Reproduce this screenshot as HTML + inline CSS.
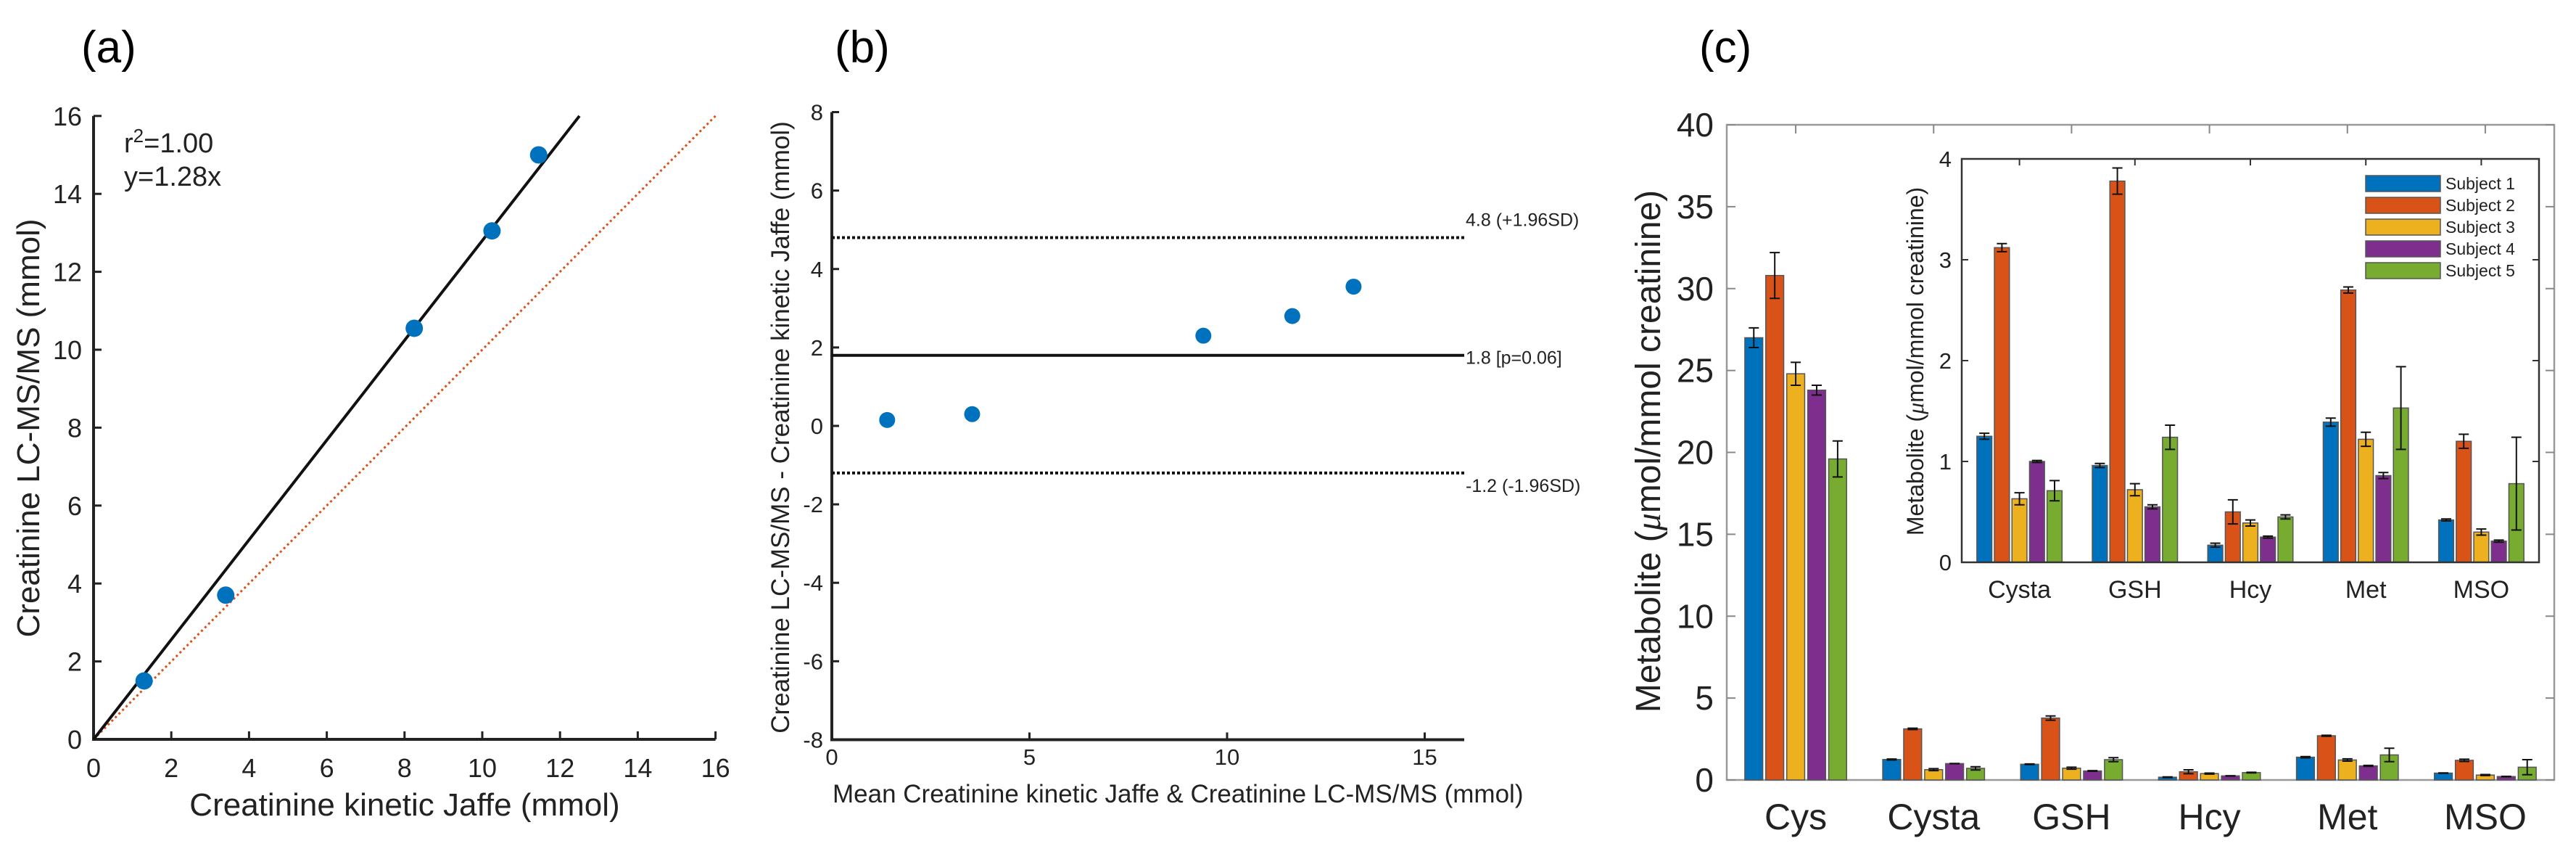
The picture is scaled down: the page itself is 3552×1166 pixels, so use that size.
<!DOCTYPE html>
<html><head><meta charset="utf-8"><style>
body{margin:0;background:#fff}
svg{display:block;font-family:"Liberation Sans",sans-serif}
</style></head><body>
<svg id="s" width="3552" height="1166" viewBox="0 0 3552 1166" xmlns="http://www.w3.org/2000/svg">
<rect width="3552" height="1166" fill="#fff"/>
<g id="pa"></g>
<g id="pb"></g>
<g id="pc"></g>
</svg>
<script>
// Panel a data
const aX=[1.3,3.4,8.25,10.25,11.45];
const aY=[1.5,3.7,10.55,13.05,15.0];
const aTicks=[0,2,4,6,8,10,12,14,16];
const aSlope=[1.28];
// Panel b data
const bX=[1.4,3.55,9.4,11.65,13.2];
const bY=[0.15,0.3,2.3,2.8,3.55];
const bYTicks=[-8,-6,-4,-2,0,2,4,6,8];
const bXTicks=[0,5,10,15];
const bLines=[4.8,1.8,-1.2];
const bLineLabels=["4.8 (+1.96SD)","1.8 [p=0.06]","-1.2 (-1.96SD)"];
// Panel c data
const cCats=["Cys","Cysta","GSH","Hcy","Met","MSO"];
const cSubjects=["Subject 1","Subject 2","Subject 3","Subject 4","Subject 5"];
const cS1=[27.0,1.25,0.96,0.17,1.39,0.42];
const cS2=[30.8,3.12,3.78,0.50,2.70,1.20];
const cS3=[24.8,0.63,0.72,0.39,1.22,0.30];
const cS4=[23.8,1.00,0.55,0.25,0.86,0.21];
const cS5=[19.6,0.71,1.24,0.45,1.53,0.78];
const cE1=[0.6,0.03,0.02,0.02,0.04,0.01];
const cE2=[1.4,0.04,0.13,0.12,0.03,0.07];
const cE3=[0.7,0.06,0.06,0.03,0.07,0.03];
const cE4=[0.3,0.01,0.02,0.01,0.03,0.01];
const cE5=[1.1,0.10,0.12,0.02,0.41,0.46];
const cYTicks=[0,5,10,15,20,25,30,35,40];
const iYTicks=[0,1,2,3,4];
const colors=["#0072BD","#D95319","#EDB120","#7E2F8E","#77AC30"];

const NS="http://www.w3.org/2000/svg";
function el(parent,tag,attrs,text){const e=document.createElementNS(NS,tag);for(const k in attrs)e.setAttribute(k,attrs[k]);if(text!==undefined)e.textContent=text;parent.appendChild(e);return e;}

// ---------- Panel a ----------
(function(){
const g=document.getElementById('pa');
const x=v=>129+v*53.6, y=v=>1019-v*53.7;
let t=el(g,'text',{x:112,y:86,'font-size':62});t.textContent='(a)';

let ax=el(g,'path',{d:`M${x(0)},${y(16)} L${x(0)},${y(0)} L${x(16)},${y(0)}`,fill:'none',stroke:'#222','stroke-width':4});

aTicks.forEach(v=>{
 el(g,'line',{x1:x(v),y1:y(0),x2:x(v),y2:y(0)-11,stroke:'#222','stroke-width':3});
 el(g,'line',{x1:x(0),y1:y(v),x2:x(0)+11,y2:y(v),stroke:'#222','stroke-width':3});
 let tx=el(g,'text',{x:x(v),y:1071,'font-size':36,'text-anchor':'middle',fill:'#222'},String(v));
 
 let ty=el(g,'text',{x:x(0)-16,y:y(v)+13,'font-size':36,'text-anchor':'end',fill:'#222'},String(v));
 
});
let xt=el(g,'text',{x:558,y:1124,'font-size':44,'text-anchor':'middle',fill:'#222'},'Creatinine kinetic Jaffe (mmol)');

let yt=el(g,'text',{x:0,y:0,'font-size':44,'text-anchor':'middle',fill:'#222',transform:'translate(54,590) rotate(-90)'},'Creatinine LC-MS/MS (mmol)');

let id=el(g,'line',{x1:x(0),y1:y(0),x2:x(16),y2:y(16),stroke:'#D95319','stroke-width':3,'stroke-dasharray':'3,4'});

const xe=16/aSlope[0];
let fl=el(g,'line',{x1:x(0),y1:y(0),x2:x(xe),y2:y(xe*aSlope[0]),stroke:'#111','stroke-width':4});

aX.forEach((v,i)=>{let c=el(g,'circle',{cx:x(v),cy:y(aY[i]),r:12,fill:'#0072BD'});
 });
let r=el(g,'text',{x:171,y:210,'font-size':38,fill:'#222'});
r.innerHTML='r<tspan dy="-14" font-size="26">2</tspan><tspan dy="14">=1.00</tspan>';

let eq=el(g,'text',{x:171,y:256,'font-size':38,fill:'#222'},'y=1.28x');

})();

// ---------- Panel b ----------
(function(){
const g=document.getElementById('pb');
const x=v=>1147+v*54.5, y=v=>587-v*54.06;
let t=el(g,'text',{x:1151,y:86,'font-size':62},'(b)');

let ax=el(g,'path',{d:`M${x(0)},${y(8)} L${x(0)},${y(-8)} L${x(16)},${y(-8)}`,fill:'none',stroke:'#222','stroke-width':4});

bYTicks.forEach(v=>{
 el(g,'line',{x1:x(0),y1:y(v),x2:x(0)+10,y2:y(v),stroke:'#222','stroke-width':3});
 let ty=el(g,'text',{x:x(0)-12,y:y(v)+11,'font-size':31,'text-anchor':'end',fill:'#222'},String(v));
 
});
bXTicks.forEach(v=>{
 el(g,'line',{x1:x(v),y1:y(-8),x2:x(v),y2:y(-8)-10,stroke:'#222','stroke-width':3});
 let tx=el(g,'text',{x:x(v),y:1054,'font-size':31,'text-anchor':'middle',fill:'#222'},String(v));
 
});
let xt=el(g,'text',{x:1148,y:1106,'font-size':35,fill:'#222'},'Mean Creatinine kinetic Jaffe & Creatinine LC-MS/MS (mmol)');

let yt=el(g,'text',{x:0,y:0,'font-size':35,'text-anchor':'middle',fill:'#222',transform:'translate(1088,589) rotate(-90)'},'Creatinine LC-MS/MS - Creatinine kinetic Jaffe (mmol)');

bLines.forEach((v,i)=>{
 const dash=i===1?'none':'4,3';
 let l=el(g,'line',{x1:x(0),y1:y(v),x2:x(16),y2:y(v),stroke:'#111','stroke-width':i===1?4:4,'stroke-dasharray':dash});
 
 const dy=i===0?-16:(i===1?12:26);
 let lt=el(g,'text',{x:x(16)+2,y:y(v)+dy,'font-size':25,fill:'#222'},bLineLabels[i]);
 
});
bX.forEach((v,i)=>{let c=el(g,'circle',{cx:x(v),cy:y(bY[i]),r:11,fill:'#0072BD'});
 });
})();

// ---------- Panel c ----------
(function(){
const g=document.getElementById('pc');
const S=[cS1,cS2,cS3,cS4,cS5], E=[cE1,cE2,cE3,cE4,cE5];
let t=el(g,'text',{x:2343,y:86,'font-size':62},'(c)');

// main axes
const L=2381,R=3522,T=172,B=1075;
const x=c=>L+(c+0.5)*(R-L)/6, y=v=>B-v*(B-T)/40;
let box=el(g,'rect',{x:L,y:T,width:R-L,height:B-T,fill:'none',stroke:'#999','stroke-width':2.5});

cYTicks.forEach(v=>{
 el(g,'line',{x1:L,y1:y(v),x2:L+12,y2:y(v),stroke:'#888','stroke-width':2});
 el(g,'line',{x1:R,y1:y(v),x2:R-12,y2:y(v),stroke:'#888','stroke-width':2});
 let ty=el(g,'text',{x:L-18,y:y(v)+16,'font-size':46,'text-anchor':'end',fill:'#222'},String(v));
 
});
const bw=(R-L)/6;
function bars(gg,cats,xf,yf,w,idxs,pref){
 idxs.forEach((ci,k)=>{
  for(let s=0;s<5;s++){
   const cx=xf(k)+(s-2)*w*0.152;
   const bwid=w*0.13;
   const v=S[s][ci], e=E[s][ci];
   let b=el(gg,'rect',{x:cx-bwid/2,y:yf(v),width:bwid,height:yf(0)-yf(v),fill:colors[s],stroke:'#555','stroke-width':1.5});
   
   
   let eb=el(gg,'path',{d:`M${cx},${yf(v-e)} L${cx},${yf(v+e)} M${cx-7},${yf(v-e)} L${cx+7},${yf(v-e)} M${cx-7},${yf(v+e)} L${cx+7},${yf(v+e)}`,stroke:'#111','stroke-width':2,fill:'none'});
   
  }
 });
}
bars(g,cCats,x,y,bw,[0,1,2,3,4,5],'');
cCats.forEach((c,i)=>{
 el(g,'line',{x1:x(i),y1:T,x2:x(i),y2:T+12,stroke:'#888','stroke-width':2});
 let tx=el(g,'text',{x:x(i),y:1143,'font-size':50,'text-anchor':'middle',fill:'#222'},c);
 
});
let yt=el(g,'text',{x:0,y:0,'font-size':48,'text-anchor':'middle',fill:'#222',transform:'translate(2289,622) rotate(-90)'});
yt.innerHTML='Metabolite (<tspan font-style="italic" font-family="Liberation Serif">μ</tspan>mol/mmol creatinine)';

// inset
const iL=2705,iR=3501,iT=219,iB=775;
const ix=k=>iL+(k+0.5)*(iR-iL)/5, iy=v=>iB-v*(iB-iT)/4;
let ibg=el(g,'rect',{x:iL,y:iT,width:iR-iL,height:iB-iT,fill:'#fff',stroke:'none'});

const ig=el(g,'g',{});

bars(ig,cCats,ix,iy,(iR-iL)/5,[1,2,3,4,5],'inset-');
let ibox=el(ig,'rect',{x:iL,y:iT,width:iR-iL,height:iB-iT,fill:'none',stroke:'#333','stroke-width':2.5});

iYTicks.forEach(v=>{
 el(ig,'line',{x1:iL,y1:iy(v),x2:iL+9,y2:iy(v),stroke:'#333','stroke-width':2});
 el(ig,'line',{x1:iR,y1:iy(v),x2:iR-9,y2:iy(v),stroke:'#333','stroke-width':2});
 let ty=el(ig,'text',{x:iL-14,y:iy(v)+11,'font-size':31,'text-anchor':'end',fill:'#222'},String(v));
 
});
[1,2,3,4,5].forEach((ci,k)=>{
 el(ig,'line',{x1:ix(k),y1:iT,x2:ix(k),y2:iT+9,stroke:'#333','stroke-width':2});
 let tx=el(ig,'text',{x:ix(k),y:824,'font-size':34,'text-anchor':'middle',fill:'#222'},cCats[ci]);
 
});
let iyt=el(ig,'text',{x:0,y:0,'font-size':32,'text-anchor':'middle',fill:'#222',transform:'translate(2652,498) rotate(-90)'});
iyt.innerHTML='Metabolite (<tspan font-style="italic" font-family="Liberation Serif">μ</tspan>mol/mmol creatinine)';

// legend
const lg=el(ig,'g',{});

el(lg,'rect',{x:3255,y:236,width:228,height:150,fill:'#fff',stroke:'#fff'});
cSubjects.forEach((s,i)=>{
 const yy=253+i*30;
 const en=el(lg,'g',{});
 
 el(en,'rect',{x:3262,y:yy-11,width:103,height:22,fill:colors[i],stroke:'#555','stroke-width':1.5});
 el(en,'text',{x:3372,y:yy+8,'font-size':23,fill:'#222'},s);
});
})();
</script>
</body></html>
